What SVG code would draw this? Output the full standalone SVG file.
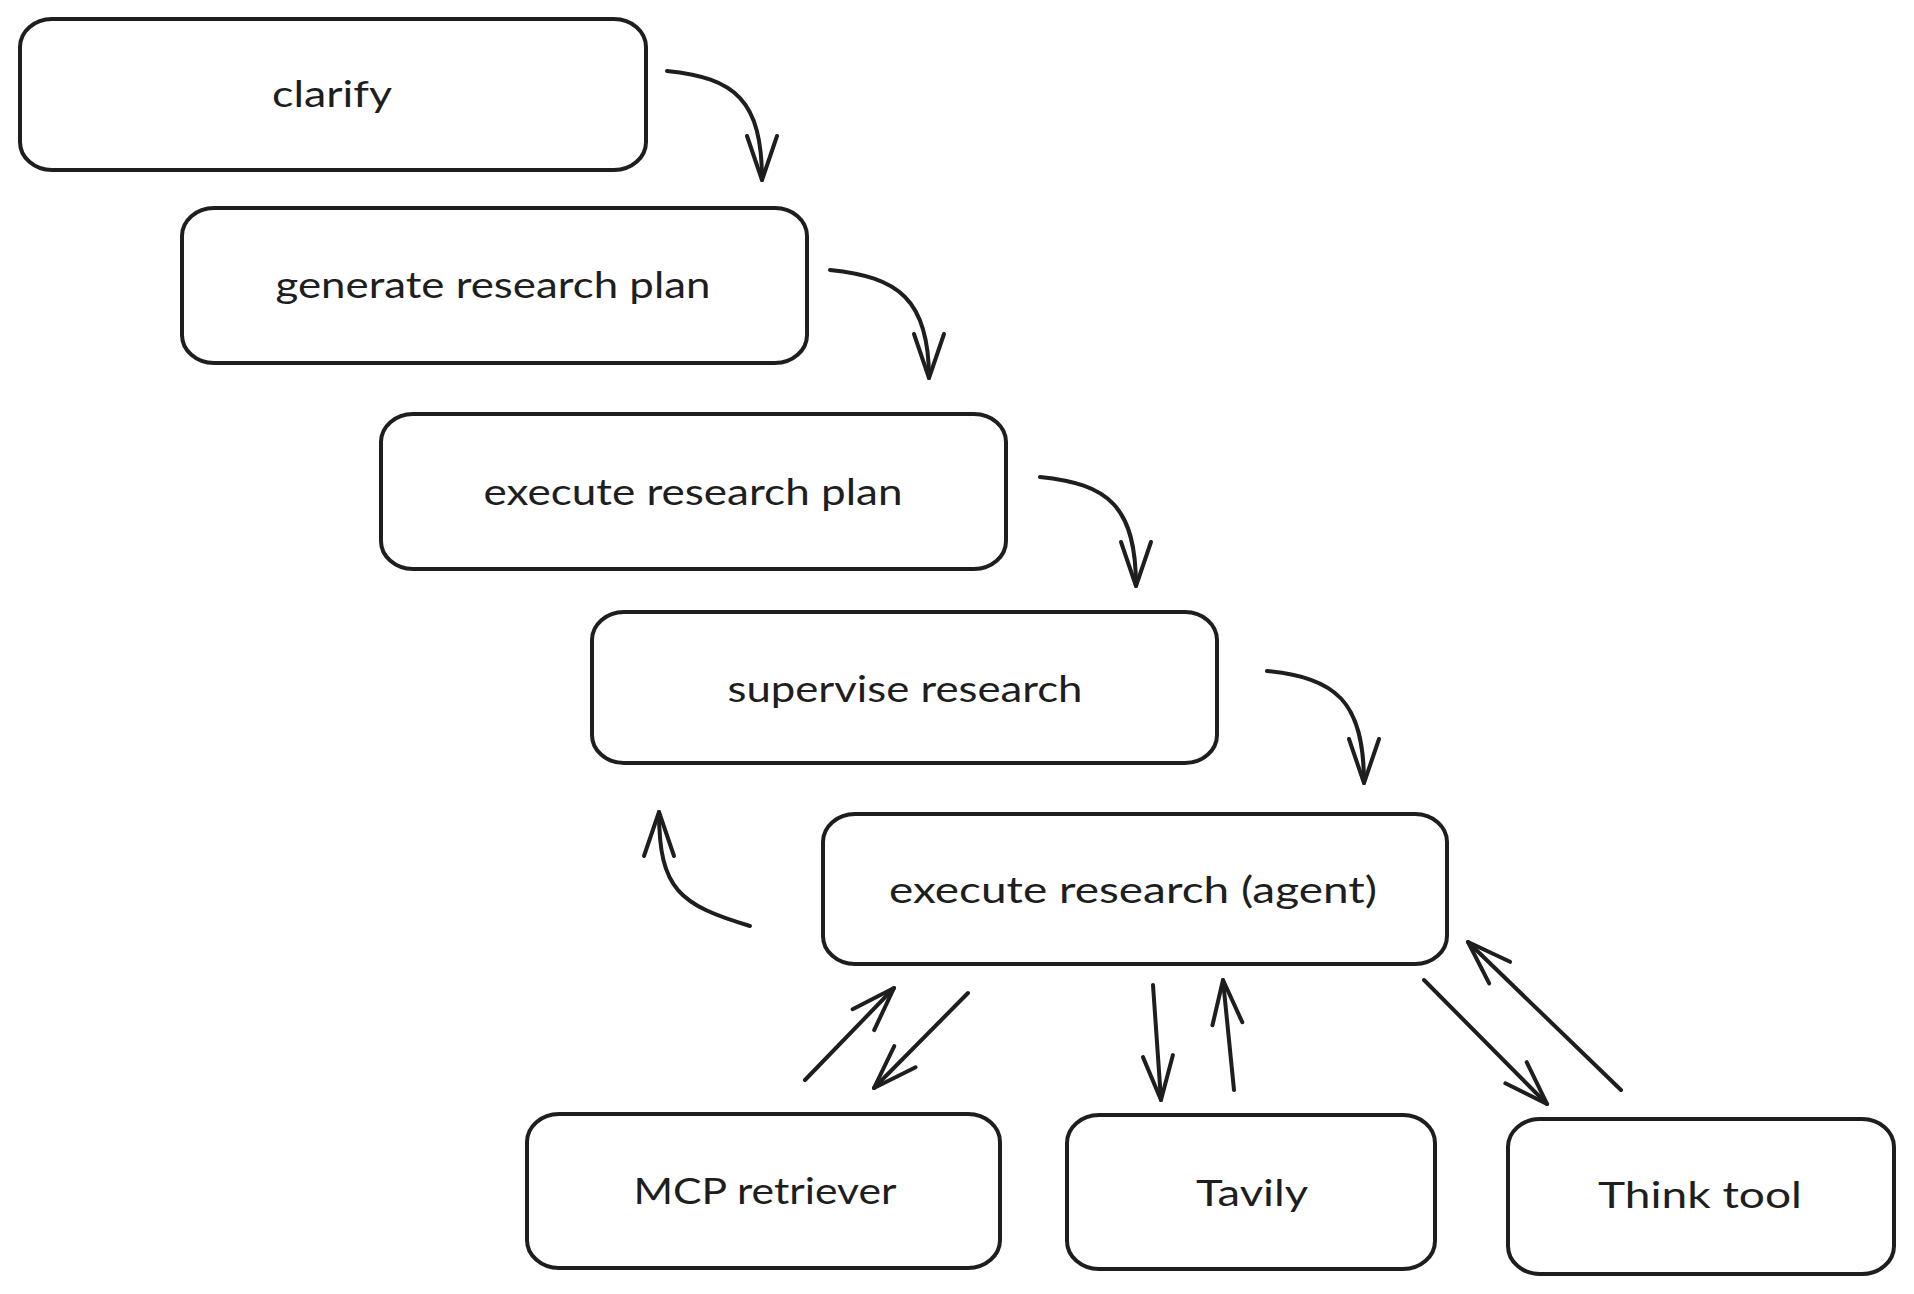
<svg xmlns="http://www.w3.org/2000/svg" width="1914" height="1294" viewBox="0 0 1914 1294">
  <style>
    .box { fill: #ffffff; stroke: #1e1e1e; stroke-width: 4; }
    .lbl { font-family: "Lato", "Open Sans", "Liberation Sans", sans-serif; font-size: 36px; fill: #1e1e1e; text-anchor: middle; dominant-baseline: central; }
    .conn { fill: none; stroke: #1e1e1e; stroke-width: 4; stroke-linecap: round; stroke-linejoin: round; }
  </style>
  <defs>
    <marker id="arrow" markerUnits="userSpaceOnUse" markerWidth="60" markerHeight="40" viewBox="-50 -20 60 40" refX="0" refY="0" orient="auto" overflow="visible">
      <path d="M -44 -15 L 0 0 L -44 15" fill="none" stroke="#1e1e1e" stroke-width="4" stroke-linecap="round" stroke-linejoin="round"/>
    </marker>
  </defs>
  <rect width="1914" height="1294" fill="#ffffff"/>

  <g id="node-clarify">
    <rect class="box" x="20" y="19" width="626" height="151" rx="32" ry="28"/>
    <text class="lbl" x="332" y="93" textLength="120" lengthAdjust="spacingAndGlyphs">clarify</text>
  </g>
  <g id="node-generate-research-plan">
    <rect class="box" x="182" y="208" width="625" height="155" rx="32" ry="28"/>
    <text class="lbl" x="493" y="284" textLength="435" lengthAdjust="spacingAndGlyphs">generate research plan</text>
  </g>
  <g id="node-execute-research-plan">
    <rect class="box" x="381" y="414" width="625" height="155" rx="32" ry="28"/>
    <text class="lbl" x="693" y="491" textLength="419" lengthAdjust="spacingAndGlyphs">execute research plan</text>
  </g>
  <g id="node-supervise-research">
    <rect class="box" x="592" y="612" width="625" height="151" rx="32" ry="28"/>
    <text class="lbl" x="905" y="688" textLength="355" lengthAdjust="spacingAndGlyphs">supervise research</text>
  </g>
  <g id="node-execute-research-agent">
    <rect class="box" x="823" y="814" width="624" height="150" rx="32" ry="28"/>
    <text class="lbl" x="1133" y="889" textLength="488" lengthAdjust="spacingAndGlyphs">execute research (agent)</text>
  </g>
  <g id="node-mcp-retriever">
    <rect class="box" x="527" y="1114" width="473" height="154" rx="32" ry="28"/>
    <text class="lbl" x="765" y="1190" textLength="263" lengthAdjust="spacingAndGlyphs">MCP retriever</text>
  </g>
  <g id="node-tavily">
    <rect class="box" x="1067" y="1115" width="368" height="154" rx="32" ry="28"/>
    <text class="lbl" x="1252" y="1192" textLength="112" lengthAdjust="spacingAndGlyphs">Tavily</text>
  </g>
  <g id="node-think-tool">
    <rect class="box" x="1508" y="1119" width="386" height="155" rx="32" ry="28"/>
    <text class="lbl" x="1700" y="1194" textLength="204" lengthAdjust="spacingAndGlyphs">Think tool</text>
  </g>

  <g id="connectors">
    <path class="conn" marker-end="url(#arrow)" d="M 667 71 C 735 78, 762 100, 762 180"/>
    <path class="conn" marker-end="url(#arrow)" d="M 830 270 C 898 277, 929 299, 929 378"/>
    <path class="conn" marker-end="url(#arrow)" d="M 1040 477 C 1108 484, 1136 506, 1136 586"/>
    <path class="conn" marker-end="url(#arrow)" d="M 1267 671 C 1335 678, 1364 700, 1364 783"/>
    <path class="conn" marker-end="url(#arrow)" d="M 750 926 C 680 905, 659 890, 659 812"/>
    <path class="conn" marker-end="url(#arrow)" d="M 805 1080 L 894 988"/>
    <path class="conn" marker-end="url(#arrow)" d="M 968 993 L 874 1088"/>
    <path class="conn" marker-end="url(#arrow)" d="M 1153 985 L 1161 1100"/>
    <path class="conn" marker-end="url(#arrow)" d="M 1234 1090 L 1223 980"/>
    <path class="conn" marker-end="url(#arrow)" d="M 1424 980 L 1547 1104"/>
    <path class="conn" marker-end="url(#arrow)" d="M 1621 1090 L 1468 942"/>
  </g>
</svg>
